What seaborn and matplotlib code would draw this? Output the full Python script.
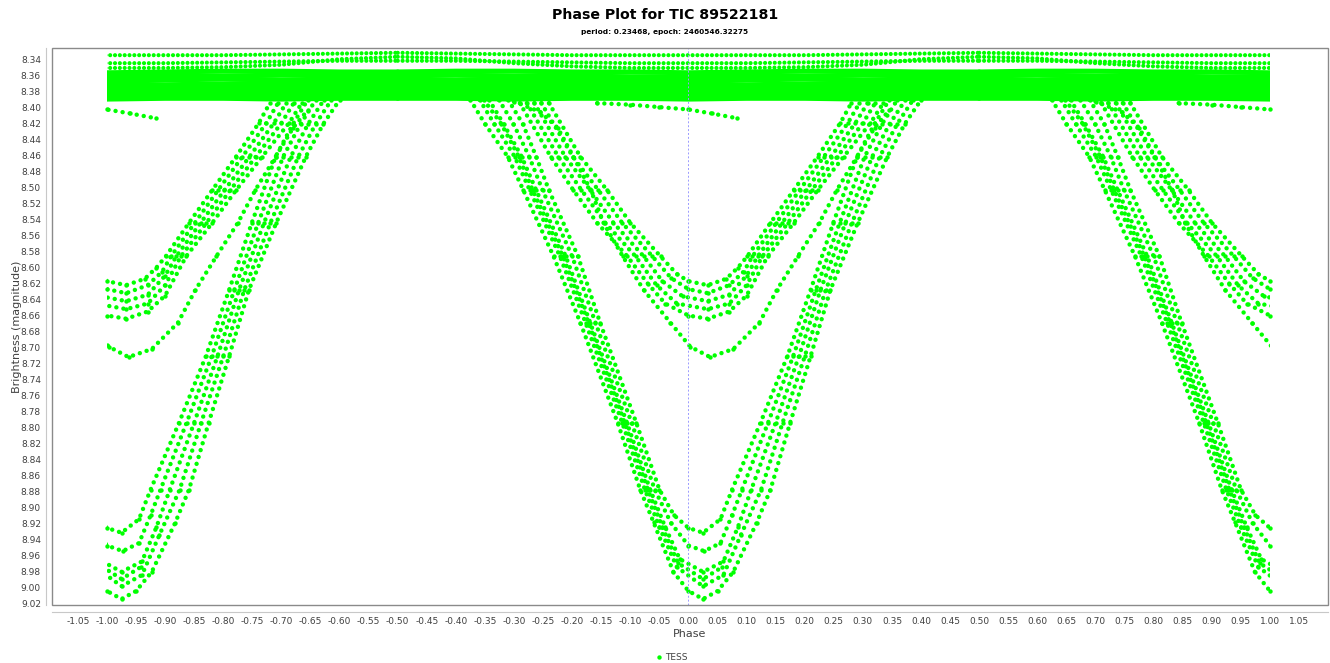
import matplotlib
matplotlib.use("Agg")
import numpy as np
import pandas as pd
import seaborn as sns
import matplotlib.pyplot as plt
from matplotlib import font_manager
from matplotlib.patches import Rectangle

# phase is folded around the primary eclipse (0 = epoch)
# deep eclipse tracks
deep1_phase = [-0.31, -0.285, -0.262, -0.240, -0.190, -0.152, -0.090, -0.050, -0.025, 0.0, 0.025, 0.055, 0.075, 0.124, 0.170, 0.210, 0.249, 0.290, 0.320, 0.345]
deep1_mag = [8.39, 8.42, 8.461, 8.503, 8.586, 8.669, 8.794, 8.878, 8.910, 8.926, 8.932, 8.915, 8.878, 8.794, 8.711, 8.628, 8.544, 8.461, 8.42, 8.39]
deep2_phase = [-0.326, -0.301, -0.274, -0.251, -0.200, -0.160, -0.098, -0.058, -0.030, 0.0, 0.027, 0.055, 0.075, 0.092, 0.137, 0.180, 0.219, 0.260, 0.303, 0.333, 0.359]
deep2_mag = [8.39, 8.42, 8.461, 8.503, 8.586, 8.669, 8.794, 8.878, 8.920, 8.948, 8.955, 8.945, 8.910, 8.878, 8.794, 8.711, 8.628, 8.544, 8.461, 8.42, 8.39]
deep3_phase = [-0.343, -0.318, -0.287, -0.262, -0.211, -0.169, -0.106, -0.066, -0.040, -0.015, 0.025, 0.060, 0.085, 0.108, 0.150, 0.190, 0.227, 0.270, 0.316, 0.346, 0.373]
deep3_mag = [8.39, 8.42, 8.461, 8.503, 8.586, 8.669, 8.794, 8.878, 8.925, 8.965, 8.981, 8.968, 8.925, 8.878, 8.794, 8.711, 8.628, 8.544, 8.461, 8.42, 8.39]
deep4_phase = [-0.359, -0.334, -0.299, -0.273, -0.221, -0.177, -0.114, -0.075, -0.050, -0.020, 0.025, 0.060, 0.090, 0.125, 0.162, 0.200, 0.236, 0.281, 0.329, 0.359, 0.386]
deep4_mag = [8.39, 8.42, 8.461, 8.503, 8.586, 8.669, 8.794, 8.878, 8.925, 8.975, 8.999, 8.985, 8.935, 8.878, 8.794, 8.711, 8.628, 8.544, 8.461, 8.42, 8.39]
deep5_phase = [-0.375, -0.350, -0.311, -0.284, -0.232, -0.186, -0.122, -0.083, -0.060, -0.026, 0.0, 0.025, 0.050, 0.077, 0.117, 0.141, 0.175, 0.210, 0.244, 0.291, 0.342, 0.372, 0.400]
deep5_mag = [8.39, 8.42, 8.461, 8.503, 8.586, 8.669, 8.794, 8.878, 8.919, 8.981, 9.005, 9.015, 9.005, 8.981, 8.920, 8.878, 8.794, 8.711, 8.628, 8.544, 8.461, 8.42, 8.39]
# extra nights crowding the left wing of the deep eclipse
deep6_phase = [-0.352, -0.322, -0.292, -0.268, -0.216, -0.172, -0.110, -0.070, -0.045, -0.018, 0.025, 0.058]
deep6_mag = [8.39, 8.42, 8.461, 8.503, 8.586, 8.669, 8.794, 8.878, 8.925, 8.970, 8.990, 8.975]

# shallow eclipse tracks
shal1_phase = [-0.24, -0.186, -0.14, -0.10, -0.048, -0.02, 0.0, 0.033, 0.065, 0.085, 0.101, 0.141, 0.181, 0.222, 0.261, 0.28]
shal1_mag = [8.394, 8.461, 8.503, 8.544, 8.586, 8.608, 8.617, 8.622, 8.614, 8.600, 8.586, 8.544, 8.503, 8.461, 8.419, 8.394]
shal2_phase = [-0.253, -0.199, -0.155, -0.114, -0.062, -0.03, 0.0, 0.033, 0.07, 0.095, 0.11, 0.151, 0.191, 0.233, 0.274, 0.294]
shal2_mag = [8.394, 8.461, 8.503, 8.544, 8.586, 8.613, 8.627, 8.632, 8.622, 8.605, 8.586, 8.544, 8.503, 8.461, 8.419, 8.394]
shal3_phase = [-0.265, -0.212, -0.169, -0.129, -0.077, -0.045, -0.01, 0.033, 0.07, 0.10, 0.119, 0.161, 0.202, 0.245, 0.287, 0.308]
shal3_mag = [8.394, 8.461, 8.503, 8.544, 8.586, 8.617, 8.636, 8.642, 8.634, 8.610, 8.586, 8.544, 8.503, 8.461, 8.419, 8.394]
shal4_phase = [-0.278, -0.224, -0.184, -0.143, -0.091, -0.055, -0.02, 0.033, 0.07, 0.10, 0.127, 0.171, 0.212, 0.256, 0.300, 0.321]
shal4_mag = [8.394, 8.461, 8.503, 8.544, 8.586, 8.622, 8.645, 8.652, 8.645, 8.622, 8.586, 8.544, 8.503, 8.461, 8.419, 8.394]
shal5_phase = [-0.29, -0.237, -0.198, -0.157, -0.105, -0.07, -0.04, 0.0, 0.033, 0.07, 0.10, 0.136, 0.181, 0.222, 0.267, 0.313, 0.335]
shal5_mag = [8.394, 8.461, 8.503, 8.544, 8.586, 8.620, 8.645, 8.660, 8.664, 8.655, 8.635, 8.586, 8.544, 8.503, 8.461, 8.419, 8.394]

# single odd night and short segment near maximum
lone_phase = [-0.30, -0.255, -0.225, -0.198, -0.168, -0.146, -0.113, -0.077, -0.031, 0.003, 0.037, 0.077, 0.122, 0.152, 0.188, 0.225, 0.255, 0.29, 0.32, 0.345]
lone_mag = [8.392, 8.405, 8.425, 8.461, 8.503, 8.544, 8.586, 8.628, 8.669, 8.699, 8.712, 8.702, 8.669, 8.628, 8.586, 8.544, 8.503, 8.461, 8.425, 8.403]
short_phase = [-0.157, -0.10, -0.05, 0.0, 0.04, 0.084]
short_mag = [8.394, 8.396, 8.399, 8.402, 8.407, 8.413]

# flat out-of-eclipse band
band_phase = [-0.5, -0.4, -0.3, -0.2, -0.1, 0.0, 0.1, 0.2, 0.3, 0.4, 0.5]
top1_mag = [8.331, 8.332, 8.333, 8.334, 8.334, 8.334, 8.334, 8.334, 8.333, 8.332, 8.331]
top2_mag = [8.341, 8.341, 8.342, 8.343, 8.344, 8.344, 8.344, 8.343, 8.342, 8.341, 8.341]
top3_mag = [8.336, 8.338, 8.344, 8.348, 8.350, 8.350, 8.350, 8.349, 8.346, 8.339, 8.336]
core1_mag = [8.355, 8.354, 8.354, 8.355, 8.355, 8.356, 8.355, 8.354, 8.354, 8.355, 8.355]
core2_mag = [8.360, 8.359, 8.360, 8.360, 8.361, 8.361, 8.360, 8.360, 8.359, 8.360, 8.360]
core3_mag = [8.365, 8.365, 8.364, 8.365, 8.366, 8.365, 8.365, 8.364, 8.365, 8.365, 8.365]
core4_mag = [8.370, 8.370, 8.369, 8.370, 8.370, 8.370, 8.371, 8.370, 8.369, 8.370, 8.370]
core5_mag = [8.375, 8.375, 8.374, 8.375, 8.375, 8.375, 8.375, 8.375, 8.374, 8.375, 8.375]
core6_mag = [8.380, 8.380, 8.379, 8.380, 8.380, 8.380, 8.380, 8.380, 8.379, 8.380, 8.380]
core7_mag = [8.385, 8.384, 8.384, 8.385, 8.385, 8.385, 8.385, 8.384, 8.384, 8.385, 8.385]
core8_mag = [8.388, 8.388, 8.389, 8.388, 8.388, 8.389, 8.388, 8.388, 8.389, 8.388, 8.388]

dot_tracks = {
    "deep1": (deep1_phase, deep1_mag), "deep2": (deep2_phase, deep2_mag),
    "deep3": (deep3_phase, deep3_mag), "deep4": (deep4_phase, deep4_mag),
    "deep5": (deep5_phase, deep5_mag), "deep6": (deep6_phase, deep6_mag),
    "shal1": (shal1_phase, shal1_mag), "shal2": (shal2_phase, shal2_mag),
    "shal3": (shal3_phase, shal3_mag), "shal4": (shal4_phase, shal4_mag),
    "shal5": (shal5_phase, shal5_mag),
    "lone": (lone_phase, lone_mag), "short": (short_phase, short_mag),
}
row_tracks = {"top1": top1_mag, "top2": top2_mag, "top3": top3_mag}
band_tracks = {
    "core1": core1_mag, "core2": core2_mag, "core3": core3_mag, "core4": core4_mag,
    "core5": core5_mag, "core6": core6_mag, "core7": core7_mag, "core8": core8_mag,
}


def fold(tracks):
    # a phase plot shows every point twice: at phase and phase +/- 1
    frames = []
    for name, (ph, mg) in tracks.items():
        for shift in (-1, 0, 1):
            frames.append(pd.DataFrame({"unit": f"{name}_{shift}",
                                        "phase": np.array(ph) + shift,
                                        "mag": mg}))
    return pd.concat(frames, ignore_index=True)


dots = fold(dot_tracks)
rows = fold({k: (band_phase, v) for k, v in row_tracks.items()})
band = fold({k: (band_phase, v) for k, v in band_tracks.items()})

GREEN = "#00ff00"
sns.set_style("white")
plt.rcParams["font.family"] = ["DejaVu Sans"]

installed = {f.name for f in font_manager.fontManager.ttflist}
if "Liberation Sans Narrow" in installed:
    title_font, title_size, sub_size = "Liberation Sans Narrow", 12.5, 7
elif "DejaVu Sans Condensed" in installed:
    title_font, title_size, sub_size = "DejaVu Sans Condensed", 11, 6
else:
    title_font, title_size, sub_size = "DejaVu Sans", 10.2, 5.3

fig = plt.figure(figsize=(13.3, 6.63), dpi=100)
ax = fig.add_axes([52 / 1330, 1 - 605 / 663, 1276 / 1330, 557 / 663])

sns.lineplot(data=band, x="phase", y="mag", units="unit", estimator=None, sort=False,
             color=GREEN, linewidth=3.6, solid_capstyle="round", ax=ax, legend=False)
sns.lineplot(data=rows, x="phase", y="mag", units="unit", estimator=None, sort=False,
             color=GREEN, linewidth=3.0, linestyle=(0, (0.01, 1.15)),
             dash_capstyle="round", ax=ax, legend=False)
sns.lineplot(data=dots, x="phase", y="mag", units="unit", estimator=None, sort=False,
             color=GREEN, linewidth=3.2, linestyle=(0, (0.01, 1.6)),
             dash_capstyle="round", ax=ax, legend=False)
inside = dots[(dots["phase"] >= -1) & (dots["phase"] <= 1)]
sns.scatterplot(data=inside, x="phase", y="mag", color=GREEN, s=10, linewidth=0,
                marker="o", label="TESS", ax=ax)

clip = Rectangle((-1.0, 8.0), 2.0, 2.0, transform=ax.transData)
for ln in ax.lines:
    ln.set_clip_path(clip)

ax.axvline(0, color="#9a9aff", lw=0.7, ls=(0, (2, 2)), zorder=5)

ax.set_xlim(-1.0946, 1.0998)
ax.set_ylim(9.0225, 8.325)
xt = np.round(np.arange(-1.05, 1.051, 0.05), 2)
yt = np.round(np.arange(8.34, 9.021, 0.02), 2)
ax.set_xticks(xt)
ax.set_xticklabels([f"{v:.2f}" for v in xt])
ax.set_yticks(yt)
ax.set_yticklabels([f"{v:.2f}" for v in yt])
ax.tick_params(labelsize=6.5, labelcolor="#404040", color="#a0a0a0",
               length=2, width=0.6, pad=2, direction="out")

for side in ["top", "right"]:
    ax.spines[side].set_visible(False)
ax.spines["bottom"].set_position(("outward", 5))
ax.spines["left"].set_position(("outward", 4))
for side in ["bottom", "left"]:
    ax.spines[side].set_color("#c8c8c8")
    ax.spines[side].set_linewidth(0.8)
ax.add_patch(Rectangle((0, 0), 1, 1, transform=ax.transAxes, fill=False,
                       ec="#8a8a8a", lw=1.0, clip_on=False, zorder=6))

ax.set_xlabel("Phase", fontsize=8, color="#404040", labelpad=2)
ax.set_ylabel("Brightness (magnitude)", fontsize=8, color="#404040", labelpad=-1)

fig.text(0.5, 1 - 15 / 663, "Phase Plot for TIC 89522181", ha="center", va="center",
         fontsize=title_size, fontweight="bold", color="black",
         family=[title_font, "DejaVu Sans"])
fig.text(0.5, 1 - 32 / 663, "period: 0.23468, epoch: 2460546.32275", ha="center",
         va="center", fontsize=sub_size, fontweight="bold", color="black",
         family=[title_font, "DejaVu Sans"])

handles, labels = ax.get_legend_handles_labels()
ax.legend_.remove()
fig.legend(handles, labels, loc="center", bbox_to_anchor=(672 / 1330, 1 - 657 / 663),
           frameon=False, fontsize=6.5, handlelength=0.6, handletextpad=0.4,
           labelcolor="#404040")

fig.savefig("out.png", dpi=100)
